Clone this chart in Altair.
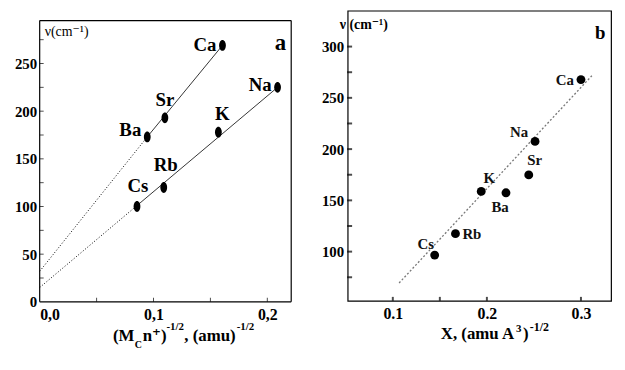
import altair as alt
import pandas as pd

# ---------------- data: panel a ----------------
a_elem = ["Cs", "Rb", "K", "Na", "Ba", "Sr", "Ca"]
a_x = [0.0855, 0.109, 0.157, 0.209, 0.0945, 0.110, 0.1606]
a_y = [100, 120, 178, 225, 173, 193, 269]

# fitted lines (solid part between the measured ions, dotted extrapolation to x = 0)
a_fit_group = ["alkali", "alkali", "earth", "earth"]
a_fit_solid_x = [0.0855, 0.207, 0.0945, 0.1606]
a_fit_solid_y = [101, 223, 173, 269]
a_fit_dot_x = [0.0, 0.0855, 0.0, 0.0945]
a_fit_dot_y = [15, 101, 32, 173]

a_xticks = [0.05, 0.1, 0.15, 0.2]
a_yticks = [25, 50, 75, 100, 125, 150, 175, 200, 225, 250, 275]

# ---------------- data: panel b ----------------
b_elem = ["Cs", "Rb", "K", "Ba", "Sr", "Na", "Ca"]
b_x = [0.1445, 0.1666, 0.194, 0.2203, 0.2445, 0.2512, 0.300]
b_y = [96.6, 117.5, 158.7, 157.4, 174.8, 207.5, 267.8]

b_fit_x = [0.1067, 0.3116]
b_fit_y = [69.4, 271.6]

b_xticks = [0.1, 0.15, 0.2, 0.3]
b_yticks = [75, 100, 125, 150, 175, 200, 225, 250, 275, 300]

# ---------------- styling ----------------
SERIF = "Liberation Serif, Times New Roman, DejaVu Serif, serif"
WA, HA = 254, 294          # panel a view; its framed box starts 10 px below the view top
BOX_TOP_A = 10
WB, HB = 266, 293

a_label_pos = {"Ca": ("right", -6, 0), "Sr": ("center", 0, -18), "Ba": ("right", -6, -7),
               "Na": ("right", -6, -2), "K": ("center", 4, -18), "Rb": ("center", 2, -23),
               "Cs": ("center", 1, -21)}
b_label_pos = {"Ca": ("right", -7, 0), "Na": ("right", -7, -9), "Sr": ("center", 6, -15),
               "K": ("center", 8, -14), "Ba": ("center", -6, 14), "Rb": ("left", 7, 0),
               "Cs": ("center", -9, -11)}

a_title_pieces = [("(M", 74, 334, 17), ("C", 96, 341, 10), ("n⁺)", 104, 334, 17),
                  ("-1/2", 128, 322, 11), (", (amu)", 146, 334, 17), ("-1/2", 199, 322, 11)]
b_title_pieces = [("X, (amu A", 94, 332, 17), ("3", 170, 324, 11), (")", 177, 332, 17),
                  ("-1/2", 184, 323, 12)]

dummy = pd.DataFrame({"d": [0]})
ellipse = "M0,-1A0.62,1,0,1,1,0,1A0.62,1,0,1,1,0,-1Z"


def text_at(txt, x, y, size, weight="bold", align="left", baseline="alphabetic"):
    return alt.Chart(dummy).mark_text(
        text=txt, font=SERIF, fontSize=size, fontWeight=weight, align=align,
        baseline=baseline, color="black"
    ).encode(x=alt.value(x), y=alt.value(y))


def rule_px(x, x2, y, y2):
    return alt.Chart(dummy).mark_rule(color="black", strokeWidth=1.2).encode(
        x=alt.value(x), x2=alt.value(x2), y=alt.value(y), y2=alt.value(y2))


# ---------------- panel a ----------------
xa = alt.Scale(domain=[0, 0.221], nice=False, zero=False)
ya = alt.Scale(domain=[0, 305.4], nice=False)
xa_axis = alt.Axis(values=[0, 0.1, 0.2], labelExpr="replace(format(datum.value, '.1f'), '.', ',')",
                   ticks=False, tickSize=0, domain=False, grid=False, title=None,
                   labelFont=SERIF, labelFontWeight="bold", labelFontSize=16, labelPadding=5,
                   labelColor="black")
ya_axis = alt.Axis(values=[0, 50, 100, 150, 200, 250], ticks=False, tickSize=0, domain=False,
                   grid=False, title=None, labelFont=SERIF, labelFontWeight="bold",
                   labelFontSize=15, labelPadding=3, labelColor="black")

dfa = pd.DataFrame({"elem": a_elem, "x": a_x, "y": a_y})
dfa_solid = pd.DataFrame({"g": a_fit_group, "x": a_fit_solid_x, "y": a_fit_solid_y})
dfa_dot = pd.DataFrame({"g": a_fit_group, "x": a_fit_dot_x, "y": a_fit_dot_y})

a_layers = []
a_layers.append(alt.Chart(dfa_dot).mark_line(color="black", strokeWidth=1, strokeDash=[1, 2]).encode(
    x=alt.X("x:Q", scale=xa, axis=xa_axis), y=alt.Y("y:Q", scale=ya, axis=ya_axis), detail="g:N"))
a_layers.append(alt.Chart(dfa_solid).mark_line(color="black", strokeWidth=0.8).encode(
    x=alt.X("x:Q", scale=xa), y=alt.Y("y:Q", scale=ya), detail="g:N"))
a_layers.append(alt.Chart(dfa).mark_point(shape=ellipse, filled=True, color="black", size=121,
                                          opacity=1).encode(
    x=alt.X("x:Q", scale=xa), y=alt.Y("y:Q", scale=ya)))
for el, (al, dx, dy) in a_label_pos.items():
    a_layers.append(alt.Chart(dfa).transform_filter(alt.datum.elem == el).mark_text(
        font=SERIF, fontSize=19, fontWeight="bold", align=al, baseline="middle", dx=dx, dy=dy,
        color="black").encode(x=alt.X("x:Q", scale=xa), y=alt.Y("y:Q", scale=ya), text="elem:N"))
# inward ticks
a_layers.append(alt.Chart(pd.DataFrame({"t": a_yticks})).mark_tick(
    orient="horizontal", size=4, thickness=1, color="black").encode(
    y=alt.Y("t:Q", scale=ya), x=alt.value(2)))
a_layers.append(alt.Chart(pd.DataFrame({"t": a_xticks})).mark_tick(
    orient="vertical", size=4, thickness=1, color="black").encode(
    x=alt.X("t:Q", scale=xa), y=alt.value(HA - 2)))
# frame of panel a (starts lower than panel b's frame)
a_layers.append(rule_px(0, WA, BOX_TOP_A, BOX_TOP_A))
a_layers.append(rule_px(0, WA, HA, HA))
a_layers.append(rule_px(0, 0, BOX_TOP_A, HA))
a_layers.append(rule_px(WA, WA, BOX_TOP_A, HA))
# annotations
a_layers.append(text_at("ν(cm⁻¹)", 5, 22, 14, weight="normal", baseline="middle"))
a_layers.append(text_at("a", 243, 33, 23, align="center", baseline="middle"))
for t, x, y, s in a_title_pieces:
    a_layers.append(text_at(t, x, y, s))

panel_a = alt.layer(*a_layers).properties(width=WA, height=HA,
                                          view=alt.ViewBackground(stroke="transparent"))

# ---------------- panel b ----------------
xb = alt.Scale(domain=[0.052, 0.332], nice=False, zero=False)
yb = alt.Scale(domain=[52, 335], nice=False, zero=False)
xb_axis = alt.Axis(values=[0.1, 0.2, 0.3], format=".1f", ticks=False, tickSize=0, domain=False,
                   grid=False, title=None, labelFont=SERIF, labelFontWeight="bold",
                   labelFontSize=16, labelPadding=5, labelColor="black")
yb_axis = alt.Axis(values=[100, 150, 200, 250, 300], ticks=False, tickSize=0, domain=False,
                   grid=False, title=None, labelFont=SERIF, labelFontWeight="bold",
                   labelFontSize=15, labelPadding=4, labelColor="black")

dfb = pd.DataFrame({"elem": b_elem, "x": b_x, "y": b_y})
dfb_fit = pd.DataFrame({"x": b_fit_x, "y": b_fit_y})

b_layers = []
b_layers.append(alt.Chart(dfb_fit).mark_line(color="#777777", strokeWidth=1.3, strokeDash=[2, 2]).encode(
    x=alt.X("x:Q", scale=xb, axis=xb_axis), y=alt.Y("y:Q", scale=yb, axis=yb_axis)))
b_layers.append(alt.Chart(dfb).mark_circle(color="black", size=80, opacity=1).encode(
    x=alt.X("x:Q", scale=xb), y=alt.Y("y:Q", scale=yb)))
for el, (al, dx, dy) in b_label_pos.items():
    b_layers.append(alt.Chart(dfb).transform_filter(alt.datum.elem == el).mark_text(
        font=SERIF, fontSize=15, fontWeight="bold", align=al, baseline="middle", dx=dx, dy=dy,
        color="#111111").encode(x=alt.X("x:Q", scale=xb), y=alt.Y("y:Q", scale=yb), text="elem:N"))
b_layers.append(alt.Chart(pd.DataFrame({"t": b_yticks})).mark_tick(
    orient="horizontal", size=5, thickness=2, color="black").encode(
    y=alt.Y("t:Q", scale=yb), x=alt.value(2)))
b_layers.append(alt.Chart(pd.DataFrame({"t": b_xticks})).mark_tick(
    orient="vertical", size=4, thickness=2, color="black").encode(
    x=alt.X("t:Q", scale=xb), y=alt.value(HB - 2)))
b_layers.append(text_at("ν (cm⁻¹)", -8, 14, 14, baseline="middle"))
b_layers.append(text_at("b", 255, 23, 19, align="center", baseline="middle"))
for t, x, y, s in b_title_pieces:
    b_layers.append(text_at(t, x, y, s))

panel_b = alt.layer(*b_layers).properties(width=WB, height=HB)

chart = alt.hconcat(panel_a, panel_b, spacing=27).properties(
    padding={"left": 5, "top": 0, "right": 5, "bottom": 5},
    background="white",
).configure_view(stroke="black", strokeWidth=1.2)

chart.save("out.html", embed_options={"renderer": "svg", "actions": False})
